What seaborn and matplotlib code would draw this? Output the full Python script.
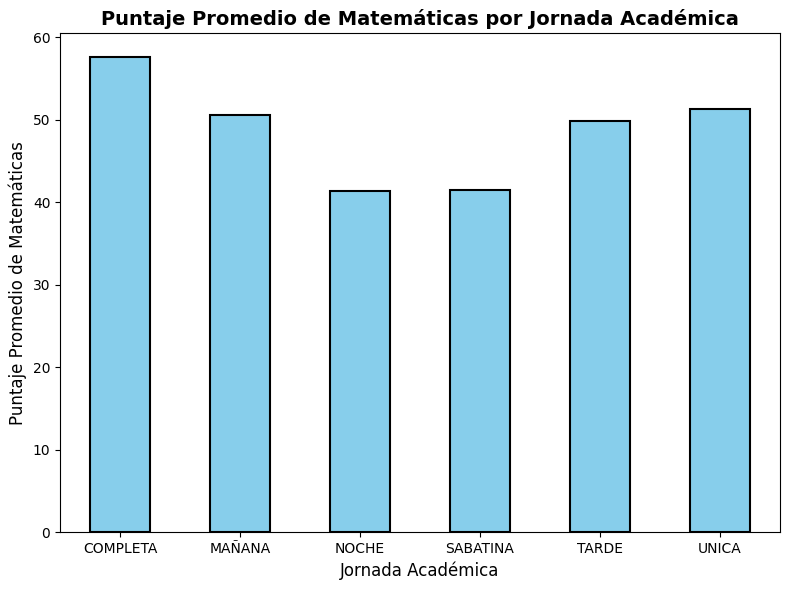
import matplotlib
matplotlib.use("Agg")
import matplotlib.pyplot as plt
import seaborn as sns
import pandas as pd

jornadas = ["COMPLETA", "MAÑANA", "NOCHE", "SABATINA", "TARDE", "UNICA"]
puntajes = [57.6, 50.5, 41.4, 41.5, 49.8, 51.3]

df = pd.DataFrame({"jornada": jornadas, "puntaje": puntajes})
fig, ax = plt.subplots(figsize=(7.9, 5.9), dpi=100)
sns.barplot(data=df, x="jornada", y="puntaje", color="skyblue", saturation=1,
            edgecolor="black", linewidth=1.5, width=0.5, ax=ax)
ax.set_title("Puntaje Promedio de Matemáticas por Jornada Académica", fontsize=14, fontweight="bold")
ax.set_xlabel("Jornada Académica", fontsize=12)
ax.set_ylabel("Puntaje Promedio de Matemáticas", fontsize=12)
ax.set_xlim(-0.5, 5.5)
fig.subplots_adjust(left=0.076, right=0.987, top=0.944, bottom=0.098)
fig.savefig("out.png")
